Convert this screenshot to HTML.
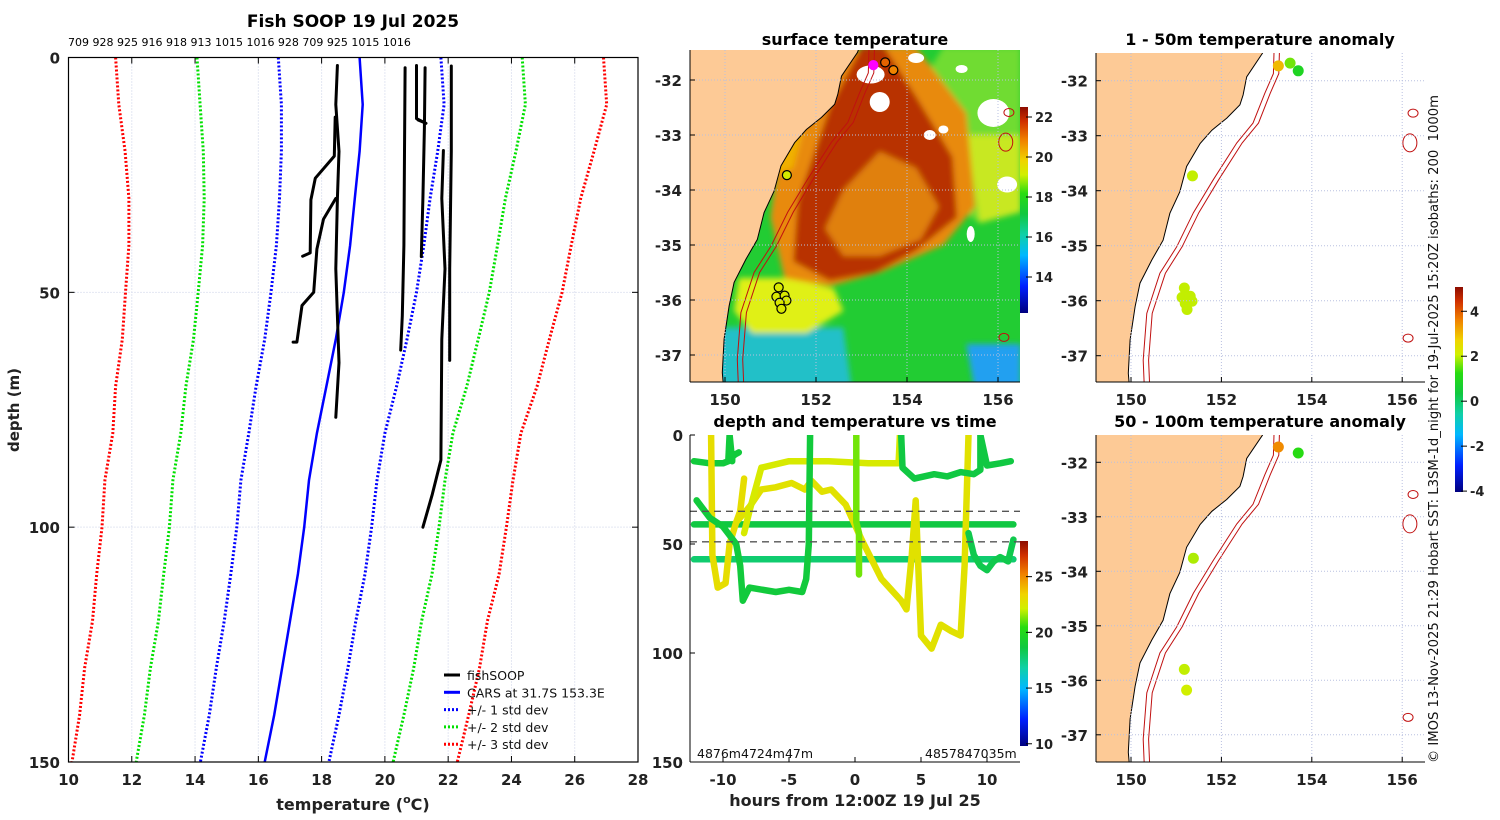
<!DOCTYPE html>
<html><head><meta charset="utf-8"><style>
html,body{margin:0;padding:0;background:#fff}
svg{display:block;font-family:"DejaVu Sans","Liberation Sans",sans-serif}
.b{font-weight:bold}
</style></head><body>
<svg id="fig" width="1500" height="820" viewBox="0 0 1500 820" xmlns="http://www.w3.org/2000/svg">
<defs>
<clipPath id="cpSST"><rect x="690" y="50" width="330" height="332"/></clipPath>
<clipPath id="cpA1"><rect x="1096" y="53" width="329" height="329"/></clipPath>
<clipPath id="cpA2"><rect x="1096" y="435" width="329" height="327"/></clipPath>
<clipPath id="cpDT"><rect x="690" y="435" width="330" height="327"/></clipPath>
<filter id="blur2"><feGaussianBlur stdDeviation="3"/></filter>
<linearGradient id="gSST" x1="0" y1="1" x2="0" y2="0"></linearGradient>
<linearGradient id="gDT" x1="0" y1="1" x2="0" y2="0"></linearGradient>
<linearGradient id="gAN" x1="0" y1="1" x2="0" y2="0"></linearGradient>
</defs>
<g id="root"></g>
</svg>
<script>
// ---------- data: profile plot ----------
const depthLevels=[0,10,20,30,40,50,60,70,80,90,100,110,120,130,140,150];
const carsTemp=[19.2,19.3,19.2,19.05,18.9,18.7,18.45,18.15,17.85,17.6,17.45,17.25,17.0,16.75,16.5,16.2];
const carsStd=[2.57,2.57,2.47,2.38,2.33,2.3,2.25,2.22,2.15,2.15,2.13,2.12,2.08,2.08,2.05,2.03];
const profileTemps=[
 [18.5,18.45,18.55,18.5,18.45,18.5,18.55,18.45],
 [18.43,18.4,17.8,17.66,17.64,17.4],
 [18.45,18.06,17.85,17.75,17.38,17.22,17.1],
 [20.64,20.62,20.6,20.55,20.5],
 [21.0,21.0,21.3,21.05],
 [21.27,21.25,21.2,21.15],
 [21.85,21.8,21.9,21.8,21.77,21.5,21.2],
 [22.1,22.1,22.05,22.05]];
const profileDepths=[
 [1.7,10,20,30,45,55,65,76.6],
 [12.7,21,25.7,30.3,41.6,42.3],
 [30,34.4,40.8,50,52.8,60.6,60.6],
 [2.2,20,40,55,62.3],
 [1.7,13,14,13.3],
 [2.2,15,30,42.4],
 [19.8,30,45,60,85.7,93,100],
 [1.8,20,45,64.5]];
const xTicksT=[10,12,14,16,18,20,22,24,26,28];
const yTicksD=[0,50,100,150];
const fleetIds="709 928 925 916 918 913 1015 1016 928 709 925 1015 1016";
// ---------- data: depth-time ----------
const dtHours=[
 [-12.2,-11,-10,-9.6,-9.5,-9.3,-9.3,-9.1,-8.8],
 [-12.2,-6,0,6,12],
 [-12.2,-6,0,6,12],
 [-10.9,-10.8,-10.4,-9.8,-9.5,-9.0,-8.7,-8.4],
 [-9.0,-8.0,-7.1,-6,-4.8,-3.8,-3.3,-2.5,-1.8,-0.7,0.5,2,3.5,3.9,4.3,4.6,5.0,5.8,6.5,7.3,8,8.3,8.6],
 [-8.4,-8,-7.1,-5,-2,1,3.3,3.4],
 [-12,-11,-10,-9.5,-9,-8.7,-8.5,-8,-6,-5,-4,-3.7,-3.5,-3.4],
 [3.5,3.6,4.5,6,7,8,9,9.5,9.5,10,11,11.8],
 [8.6,9,9.5,10,10.5,11,11.6,12],
 [0.1,0.1,0.3,0.3]];
const dtDepths=[
 [12,13,13,12,0,12,10,9,8],
 [41,41,41,41,41],
 [57,57,57,57,57],
 [0,55,70,68,50,40,35,20],
 [40,33,25,24,22,25,21,26,25,32,48,66,76,80,55,30,92,98,87,90,92,60,0],
 [45,35,15,12,12,13,13,0],
 [30,38,42,46,50,60,76,70,72,71,72,66,50,0],
 [0,15,20,18,19,17,18,16,0,14,13,12],
 [45,55,60,62,58,56,58,48],
 [0,40,45,64]];
const dtTemps=[18.8,18.6,17.8,23.0,22.8,22.4,18.8,18.6,18.4,21.2];
const dtXTicks=[-10,-5,0,5,10];
const dtYTicks=[0,50,100,150];
const dtDashDepths=[35,49];
// ---------- data: maps ----------
const coastLon=[149.0,153.0,152.91,152.56,152.48,152.41,152.12,151.79,151.53,151.23,151.08,150.86,150.71,150.46,150.2,150.09,149.98,149.94,149.98,149.0];
const coastLat=[-31.3,-31.3,-31.5,-31.93,-32.26,-32.44,-32.68,-32.9,-33.14,-33.56,-34.02,-34.41,-34.9,-35.26,-35.68,-36.11,-36.71,-37.32,-37.7,-37.7];
const iso200Lon=[153.17,153.15,152.96,152.7,152.34,151.82,151.38,151.01,150.64,150.35,150.27,150.3];
const iso200Lat=[-31.3,-31.87,-32.23,-32.77,-33.13,-33.8,-34.4,-35.02,-35.5,-36.23,-37.08,-37.7];
const isoOffset=0.12;
const islandLon=[156.24,156.17,156.13];
const islandLat=[-32.59,-33.13,-36.68];
const anom1Lon=[153.26,153.52,153.7,151.36,151.18,151.13,151.31,151.35,151.2,151.24];
const anom1Lat=[-31.73,-31.68,-31.82,-33.73,-35.77,-35.94,-35.92,-36.01,-36.05,-36.16];
const anom1Val=[3.0,1.6,0.9,2.0,2.0,2.0,2.0,2.0,2.0,2.0];
const anom2Lon=[153.26,153.7,151.38,151.18,151.23];
const anom2Lat=[-31.72,-31.83,-33.76,-35.8,-36.18];
const anom2Val=[3.5,1.2,1.9,2.0,2.1];
const sstDotVal=[22.5,21.2,20.8,19.2,19.3,19.3,19.3,19.3,19.3,19.3];
const lonTicks=[150,152,154,156];
const latTicks=[-32,-33,-34,-35,-36,-37];
const sstCbTicks=[14,16,18,20,22];
const dtCbTicks=[10,15,20,25];
const anCbTicks=[4,2,0,-2,-4];

// ---------- helpers ----------
const NS="http://www.w3.org/2000/svg";
const root=document.getElementById('root');
function mk(tag,attrs,parent,txt){const e=document.createElementNS(NS,tag);for(const k in attrs)e.setAttribute(k,attrs[k]);if(txt!==undefined)e.textContent=txt;(parent||root).appendChild(e);return e;}
const stops=[[0,'#00007f'],[0.13,'#0020ff'],[0.28,'#00b8ff'],[0.38,'#10d0a8'],[0.48,'#10c840'],[0.58,'#28dc10'],[0.67,'#d0f000'],[0.74,'#f0d400'],[0.84,'#f08000'],[0.93,'#d03000'],[1,'#8c0c00']];
function hex(c){return [parseInt(c.substr(1,2),16),parseInt(c.substr(3,2),16),parseInt(c.substr(5,2),16)];}
function cmap(f){f=Math.max(0,Math.min(1,f));for(let i=1;i<stops.length;i++){if(f<=stops[i][0]){const a=stops[i-1],b=stops[i];const t=(f-a[0])/(b[0]-a[0]);const A=hex(a[1]),B=hex(b[1]);return 'rgb('+A.map((v,j)=>Math.round(v+(B[j]-v)*t)).join(',')+')';}}return stops[stops.length-1][1];}
['gSST','gDT','gAN'].forEach(id=>{const g=document.getElementById(id);stops.forEach(s=>{const st=document.createElementNS(NS,'stop');st.setAttribute('offset',s[0]);st.setAttribute('stop-color',s[1]);g.appendChild(st);});});

// ================= profile panel =================
const P={x0:68.5,x1:638,y0:57.5,y1:762};
const px=t=>P.x0+(t-10)/18*(P.x1-P.x0);
const py=d=>P.y0+d/150*(P.y1-P.y0);
const gP=mk('g',{});
mk('text',{x:353,y:27,'text-anchor':'middle','font-size':17,'class':'b',},gP,'Fish SOOP 19 Jul 2025');
mk('text',{x:68,y:46,'font-size':11,},gP,fleetIds);
xTicksT.forEach(t=>{const l=mk('line',{x1:px(t),x2:px(t),y1:P.y0,y2:P.y1,stroke:'#c8cfe6','stroke-width':1,'stroke-dasharray':'1,2'},gP);
 
 mk('line',{x1:px(t),x2:px(t),y1:P.y0,y2:P.y0+6,stroke:'#000'},gP);mk('line',{x1:px(t),x2:px(t),y1:P.y1,y2:P.y1-6,stroke:'#000'},gP);
 const tx=mk('text',{x:px(t),y:785,'text-anchor':'middle','font-size':15,'class':'b',fill:'#222'},gP,String(t));
 });
yTicksD.forEach(d=>{if(d>0&&d<150)mk('line',{x1:P.x0,x2:P.x1,y1:py(d),y2:py(d),stroke:'#c8cfe6','stroke-dasharray':'1,2'},gP);
 mk('line',{x1:P.x0,x2:P.x0+6,y1:py(d),y2:py(d),stroke:'#000'},gP);mk('line',{x1:P.x1,x2:P.x1-6,y1:py(d),y2:py(d),stroke:'#000'},gP);
 const tx=mk('text',{x:60,y:py(d)+6,'text-anchor':'end','font-size':15,'class':'b',fill:'#222'},gP,String(d));
 });
function line(pts,attrs,parent,name){const e=mk('polyline',Object.assign({points:pts.map(p=>p[0].toFixed(1)+','+p[1].toFixed(1)).join(' '),fill:'none'},attrs),parent);return e;}
const sdCols={1:'#0000ff',2:'#00e000',3:'#ff0000'};
[3,2,1].forEach(k=>{[-1,1].forEach(s=>{line(depthLevels.map((d,i)=>[px(carsTemp[i]+s*k*carsStd[i]),py(d)]),{stroke:sdCols[k],'stroke-width':3,'stroke-dasharray':'2,2'},gP,'std-dev-'+k+(s<0?'-low':'-high'));});});
line(depthLevels.map((d,i)=>[px(carsTemp[i]),py(d)]),{stroke:'#0000ff','stroke-width':2.5},gP,'cars-climatology-line');
profileTemps.forEach((tt,j)=>{line(tt.map((t,i)=>[px(t),py(profileDepths[j][i])]),{stroke:'#000','stroke-width':3,'stroke-linejoin':'round','stroke-linecap':'round'},gP,'fishsoop-profile');});
mk('rect',{x:P.x0,y:P.y0,width:P.x1-P.x0,height:P.y1-P.y0,fill:'none',stroke:'#000','stroke-width':1.2,},gP);
mk('text',{x:0,y:0,'font-size':15,'class':'b',fill:'#222','text-anchor':'middle',transform:'translate(19,410) rotate(-90)',},gP,'depth (m)');
const tx=mk('text',{x:353,y:810,'font-size':16,'class':'b',fill:'#222','text-anchor':'middle',},gP);
tx.innerHTML='temperature (<tspan dy="-7" font-size="11">o</tspan><tspan dy="7">C)</tspan>';
const leg=mk('g',{},gP);
[['fishSOOP','#000',''],['CARS at 31.7S 153.3E','#0000ff',''],['+/- 1 std dev','#0000ff','2,2'],['+/- 2 std dev','#00e000','2,2'],['+/- 3 std dev','#ff0000','2,2']].forEach((r,i)=>{
 const y=675+i*17.3;const e=mk('g',{},leg);
 mk('line',{x1:444,x2:460,y1:y,y2:y,stroke:r[1],'stroke-width':3,'stroke-dasharray':r[2]||'none'},e);
 mk('text',{x:467,y:y+5,'font-size':12.5,fill:'#111'},e,r[0]);});

// ================= maps =================
function proj(x150,y32,sx,sy){return (lon,lat)=>[x150+(lon-150)*sx,y32+(-32-lat)*sy];}
const pSST=proj(725,80,45.5,55);
const pA1=proj(1131,80.7,45.2,55);
const pA2=proj(1131,462.3,45.2,54.5);
function poly(pr,lons,lats,attrs,parent,name){const e=mk('polygon',Object.assign({points:lons.map((l,i)=>pr(l,lats[i]).map(v=>v.toFixed(1)).join(',')).join(' ')},attrs),parent);return e;}
function pl(pr,lons,lats,attrs,parent,name){const e=mk('polyline',Object.assign({fill:'none',points:lons.map((l,i)=>pr(l,lats[i]).map(v=>v.toFixed(1)).join(',')).join(' ')},attrs),parent);return e;}
function gridTicks(g,pr,box){
 lonTicks.forEach(l=>{const [x]=pr(l,-32);mk('line',{x1:x,x2:x,y1:box.y,y2:box.y+box.h,stroke:'#b8c0e0','stroke-dasharray':'1,2'},g);
  mk('line',{x1:x,x2:x,y1:box.y+box.h,y2:box.y+box.h-5,stroke:'#000'},g);
  const t=mk('text',{x:x,y:box.y+box.h+23,'text-anchor':'middle','font-size':15,'class':'b',fill:'#222'},g,String(l));});
 latTicks.forEach(l=>{const [,y]=pr(150,l);mk('line',{x1:box.x,x2:box.x+box.w,y1:y,y2:y,stroke:'#b8c0e0','stroke-dasharray':'1,2'},g);
  mk('line',{x1:box.x,x2:box.x+5,y1:y,y2:y,stroke:'#000'},g);
  const t=mk('text',{x:box.x-8,y:y+6,'text-anchor':'end','font-size':15,'class':'b',fill:'#222'},g,String(l));});
 mk('line',{x1:box.x,x2:box.x,y1:box.y,y2:box.y+box.h,stroke:'#000'},g);
 mk('line',{x1:box.x,x2:box.x+box.w,y1:box.y+box.h,y2:box.y+box.h,stroke:'#000'},g);}
function coastAndIso(cl,pr){
 poly(pr,coastLon,coastLat,{fill:'#fdca96',stroke:'#000','stroke-width':1},cl,'land');
 pl(pr,iso200Lon,iso200Lat,{stroke:'#c01010','stroke-width':1},cl,'isobath-200m');
 pl(pr,iso200Lon.map(v=>v+isoOffset),iso200Lat,{stroke:'#c01010','stroke-width':1},cl,'isobath-1000m');
 islandLon.forEach((l,i)=>{const [x,y]=pr(l,islandLat[i]);const e=mk('ellipse',{cx:x,cy:y,rx:i==1?7:5,ry:i==1?9:4,fill:'none',stroke:'#c01010','stroke-width':1},cl);});}

// ---- SST map ----
const gS=mk('g',{});
mk('text',{x:855,y:45,'text-anchor':'middle','font-size':16,'class':'b',},gS,'surface temperature');
const boxS={x:690,y:50,w:330,h:332,clip:'cpSST'};
const clS=mk('g',{'clip-path':'url(#cpSST)'},gS);
mk('rect',{x:690,y:50,width:330,height:332,fill:'#22cc33'},clS);
const fS=mk('g',{filter:'url(#blur2)'},clS);
const sstShapes=[
 [[149,152.6,152.8,150.5,149],[-36.5,-36.5,-37.7,-37.7,-37.7],'#20c0c8'],
 [[150.3,151.5,152.4,152.6,151.8,150.6,150.2],[-35.6,-35.6,-35.8,-36.2,-36.6,-36.6,-36.2],'#e0f018'],
 [[154.8,156.5,156.5,155.6,154.6,154.2],[-31.4,-31.4,-33.9,-34.6,-34.0,-32.2],'#70dc30'],
 [[155.3,156.5,156.5,155.6],[-33.0,-33.0,-34.4,-34.6],'#c8e820'],
 [[151.4,153.1,154.2,155.3,155.5,154.8,153.4,152.3,151.3,151.0],[-32.0,-31.4,-31.4,-32.6,-34.3,-35.0,-35.5,-35.75,-35.6,-34.5],'#e88a10'],
 [[152.3,153.0,153.5,154.2,155.0,155.1,154.2,153.3,152.3,151.5,151.6],[-32.5,-31.4,-31.4,-32.3,-33.4,-34.5,-35.1,-35.5,-35.65,-35.3,-34.2],'#b83200'],
 [[152.6,153.4,154.2,154.7,154.3,153.4,152.6,152.2],[-34.0,-33.3,-33.6,-34.3,-34.9,-35.2,-35.2,-34.7],'#e08010'],
 [[155.3,156.5,156.5,155.5],[-36.8,-36.8,-37.7,-37.7],'#20a0f0'],
 [[150.6,151.4,152.0,151.5,150.3],[-32.7,-32.0,-32.0,-33.6,-34.0],'#f0b000']];
sstShapes.forEach(s=>poly(pSST,s[0],s[1],{fill:s[2]},fS,'sst-region'));
[[153.2,-31.9,14,9],[153.4,-32.4,10,10],[155.9,-32.6,16,14],[156.2,-33.9,10,8],[154.5,-33.0,6,5],[155.4,-34.8,4,8],[154.2,-31.6,8,5],[155.2,-31.8,6,4],[154.8,-32.9,5,4]].forEach(c=>{const [x,y]=pSST(c[0],c[1]);const e=mk('ellipse',{cx:x,cy:y,rx:c[2],ry:c[3],fill:'#fff'},clS);});
coastAndIso(clS,pSST);
anom1Lon.forEach((l,i)=>{const [x,y]=pSST(l,anom1Lat[i]);const e=mk('circle',{cx:x,cy:y,r:4.5,fill:i==0?'#ff00ff':cmap((sstDotVal[i]-12.2)/10.3),stroke:i==0?'#ff00ff':'#000','stroke-width':1.2},clS);});
gridTicks(gS,pSST,boxS);
mk('rect',{x:1020,y:107,width:8,height:206,fill:'url(#gSST)',},gS);
sstCbTicks.forEach(t=>{const y=313-(t-12.2)/10.3*206;mk('line',{x1:1026,x2:1032,y1:y,y2:y,stroke:'#000'},gS);const e=mk('text',{x:1035,y:y+5,'font-size':13,'class':'b',fill:'#222'},gS,String(t));});

// ---- anomaly maps ----
function anomMap(pr,box,title,ty,lons,lats,vals,name){
 const g=mk('g',{});
 const t=mk('text',{x:1260,y:ty,'text-anchor':'middle','font-size':16,'class':'b'},g,title);
 const cl=mk('g',{'clip-path':'url(#'+box.clip+')'},g);
 gridTicks(g,pr,box);
 coastAndIso(cl,pr);
 lons.forEach((l,i)=>{const [x,y]=pr(l,lats[i]);const c=mk('circle',{cx:x,cy:y,r:5.5,fill:cmap((vals[i]+4.04)/9.12)},cl);});}
anomMap(pA1,{x:1096,y:53,w:329,h:329,clip:'cpA1'},'1 - 50m temperature anomaly',45,anom1Lon,anom1Lat,anom1Val,'anomaly-map-1-50m');
anomMap(pA2,{x:1096,y:435,w:329,h:327,clip:'cpA2'},'50 - 100m temperature anomaly',427,anom2Lon,anom2Lat,anom2Val,'anomaly-map-50-100m');
mk('rect',{x:1455,y:287,width:8,height:205,fill:'url(#gAN)',});
anCbTicks.forEach(t=>{const y=492-(t+4.04)/9.12*205;mk('line',{x1:1461,x2:1467,y1:y,y2:y,stroke:'#000'});const e=mk('text',{x:1470,y:y+5,'font-size':13,'class':'b',fill:'#222'},root,String(t));});
mk('text',{x:0,y:0,'font-size':13.5,fill:'#111',transform:'translate(1438,763) rotate(-90)',textLength:668,lengthAdjust:'spacingAndGlyphs',},root,'© IMOS 13-Nov-2025 21:29 Hobart SST: L3SM-1d_night for 19-Jul-2025 15:20Z isobaths: 200\u00a0\u00a01000m');

// ================= depth-time =================
const D={x0:690,x1:1020,y0:435,y1:762};
const dx=h=>D.x0+(h+12.5)/25*(D.x1-D.x0);
const dy=d=>D.y0+d/150*(D.y1-D.y0);
const gD=mk('g',{});
mk('text',{x:855,y:427,'text-anchor':'middle','font-size':16,'class':'b',},gD,'depth and temperature vs time');
const clD=mk('g',{'clip-path':'url(#cpDT)'},gD);
dtHours.forEach((hh,j)=>{line(hh.map((h,i)=>[dx(h),dy(dtDepths[j][i])]),{stroke:cmap((dtTemps[j]-9.8)/18.4),'stroke-width':6.5,'stroke-linejoin':'round','stroke-linecap':'round'},clD,'depth-track');});
dtDashDepths.forEach(d=>{const e=mk('line',{x1:D.x0,x2:D.x1,y1:dy(d),y2:dy(d),stroke:'#555','stroke-width':1.3,'stroke-dasharray':'7,5'},clD);});
mk('line',{x1:D.x0,x2:D.x0,y1:D.y0,y2:D.y1,stroke:'#000'},gD);mk('line',{x1:D.x0,x2:D.x1,y1:D.y1,y2:D.y1,stroke:'#000'},gD);
dtXTicks.forEach(h=>{mk('line',{x1:dx(h),x2:dx(h),y1:D.y1,y2:D.y1-5,stroke:'#000'},gD);const e=mk('text',{x:dx(h),y:785,'text-anchor':'middle','font-size':15,'class':'b',fill:'#222'},gD,String(h));});
dtYTicks.forEach(d=>{mk('line',{x1:D.x0,x2:D.x0+5,y1:dy(d),y2:dy(d),stroke:'#000'},gD);const e=mk('text',{x:683,y:dy(d)+6,'text-anchor':'end','font-size':15,'class':'b',fill:'#222'},gD,String(d));});
mk('text',{x:855,y:806,'text-anchor':'middle','font-size':16,'class':'b',fill:'#222',},gD,'hours from 12:00Z 19 Jul 25');
mk('text',{x:697,y:758,'font-size':12.5,fill:'#111',},gD,'4876m4724m47m');
mk('text',{x:925,y:758,'font-size':12.5,fill:'#111',},gD,'4857847035m');
mk('rect',{x:1020,y:541,width:8,height:205,fill:'url(#gDT)',},gD);
dtCbTicks.forEach(t=>{const y=746-(t-9.8)/18.4*205;mk('line',{x1:1026,x2:1032,y1:y,y2:y,stroke:'#000'},gD);const e=mk('text',{x:1035,y:y+5,'font-size':13,'class':'b',fill:'#222'},gD,String(t));});
</script>
</body></html>
